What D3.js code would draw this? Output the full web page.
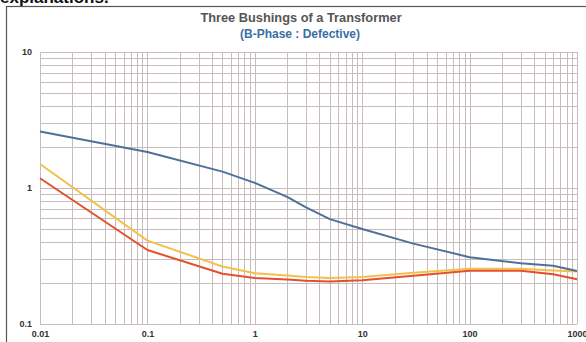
<!DOCTYPE html>
<html>
<head>
<meta charset="utf-8">
<script src="https://cdn.jsdelivr.net/npm/d3@7"></script>
<style>
  body { margin: 0; background: #fff; }
  svg { display: block; font-family: "Liberation Sans", Arial, sans-serif; }
</style>
</head>
<body>
<div id="chart"></div>
<script>
const freqs = [0.01, 0.1, 0.5, 1, 2, 3, 5, 10, 30, 100, 300, 600, 1000];
const bPhase = [2.6, 1.84, 1.32, 1.09, 0.86, 0.72, 0.59, 0.5, 0.39, 0.31, 0.28, 0.268, 0.245];
const aPhase = [1.5, 0.41, 0.265, 0.236, 0.227, 0.222, 0.218, 0.222, 0.238, 0.255, 0.255, 0.247, 0.243];
const cPhase = [1.18, 0.35, 0.234, 0.218, 0.212, 0.208, 0.205, 0.21, 0.226, 0.246, 0.246, 0.232, 0.213];
const xLabels = [0.01, 0.1, 1, 10, 100, 1000];
const yLabels = [0.1, 1, 10];

const width = 586;
const height = 342;

const svg = d3
  .select("#chart")
  .append("svg")
  .attr("width", width)
  .attr("height", height);

// cropped caption from the page above the figure
svg.append("text")
  .attr("x", 0)
  .attr("y", 3)
  .attr("fill", "#111")
  .style("font-size", "17px")
  .style("font-weight", "bold")
  .text("explanations.");

// figure frame
svg.append("rect")
  .attr("x", 6.5)
  .attr("y", 6.5)
  .attr("width", 640)
  .attr("height", 400)
  .attr("fill", "#fff")
  .attr("stroke", "#555")
  .attr("stroke-width", 1.2);

const x = d3.scaleLog().domain([0.01, 1000]).range([40, 577]);
const y = d3.scaleLog().domain([0.1, 10]).range([324, 52]);

// grid
const grid = svg.append("g").attr("stroke", "#c6bcbc").attr("stroke-width", 1);
grid.selectAll(".vx")
  .data(x.ticks())
  .enter()
  .append("line")
  .attr("x1", (d) => Math.round(x(d)) + 0.5)
  .attr("x2", (d) => Math.round(x(d)) + 0.5)
  .attr("y1", y(10))
  .attr("y2", y(0.1));
grid.selectAll(".hy")
  .data(y.ticks())
  .enter()
  .append("line")
  .attr("x1", x(0.01))
  .attr("x2", x(1000))
  .attr("y1", (d) => Math.round(y(d)) + 0.5)
  .attr("y2", (d) => Math.round(y(d)) + 0.5);

// axes labels
const xAxis = d3.axisBottom(x)
  .tickValues(xLabels)
  .tickSize(0)
  .tickPadding(0)
  .tickFormat((d) => String(d));
const gx = svg.append("g").attr("transform", "translate(0,331)").call(xAxis);
gx.select(".domain").remove();
gx.selectAll("text")
  .attr("fill", "#333")
  .style("font-size", "9px")
  .style("font-weight", "bold")
  .style("font-family", "'Liberation Sans', Arial, sans-serif");

const yAxis = d3.axisLeft(y)
  .tickValues(yLabels)
  .tickSize(0)
  .tickPadding(0)
  .tickFormat((d) => String(d));
const gy = svg.append("g").attr("transform", "translate(32,0)").call(yAxis);
gy.select(".domain").remove();
gy.selectAll("text")
  .attr("fill", "#333")
  .style("font-size", "9px")
  .style("font-weight", "bold")
  .style("font-family", "'Liberation Sans', Arial, sans-serif");

// lines
const line = d3.line()
  .x((d) => x(d[0]))
  .y((d) => y(d[1]));

const series = [
  { values: aPhase, color: "#f4c04c" },
  { values: cPhase, color: "#e5502c" },
  { values: bPhase, color: "#4f7199" },
];

series.forEach((s) => {
  svg.append("path")
    .datum(freqs.map((f, i) => [f, s.values[i]]))
    .attr("fill", "none")
    .attr("stroke", s.color)
    .attr("stroke-width", 2)
    .attr("stroke-linejoin", "round")
    .attr("d", line);
});

// titles
svg.append("text")
  .attr("x", 301)
  .attr("y", 22)
  .attr("text-anchor", "middle")
  .attr("fill", "#555")
  .style("font-size", "12.8px")
  .style("font-weight", "bold")
  .text("Three Bushings of a Transformer");

svg.append("text")
  .attr("x", 300)
  .attr("y", 38)
  .attr("text-anchor", "middle")
  .attr("fill", "#3b6ea3")
  .style("font-size", "12px")
  .style("font-weight", "bold")
  .text("(B-Phase : Defective)");
</script>
</body>
</html>
